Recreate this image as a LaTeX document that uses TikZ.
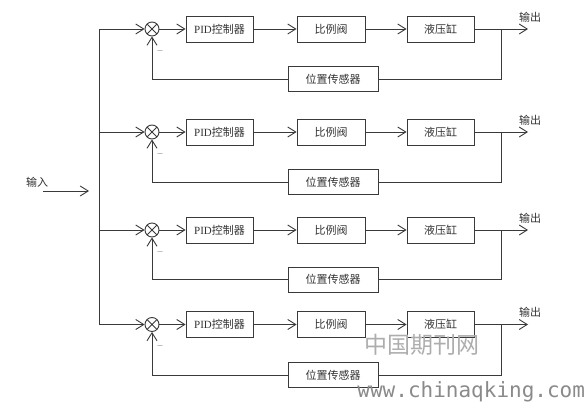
\documentclass[tikz,border=0pt]{standalone}
\usepackage{fontspec}
\setmainfont{Liberation Serif}
\newfontfamily\cjk{Noto Sans CJK SC}
\newfontfamily\wmmono{DejaVu Sans Mono}
\usetikzlibrary{arrows.meta}
\definecolor{linec}{HTML}{3A3A3A}
\definecolor{txtc}{HTML}{333333}
\definecolor{wmc}{HTML}{8A8A8A}
\begin{document}
\begin{tikzpicture}[x=1pt,y=-1pt,
  line width=0.9pt,
  wire/.style={draw=linec, line width=0.9pt},
  blk/.style={draw=linec, line width=0.9pt, minimum height=26pt, inner sep=0pt,
    text=txtc, font=\cjk\fontsize{11}{12}\selectfont},
  sumj/.style={draw=linec, circle, minimum size=14pt, inner sep=0pt,
    path picture={\draw[linec,line width=0.8pt]
      (path picture bounding box.south west) -- (path picture bounding box.north east)
      (path picture bounding box.north west) -- (path picture bounding box.south east);}},
  arr/.style={wire, -{Straight Barb[length=8pt,width=10pt,line width=0.9pt]}},
  lbl/.style={text=txtc, font=\cjk\fontsize{11}{12}\selectfont, inner sep=0pt},
  minus/.style={text=gray, font=\fontsize{10}{11}\selectfont, inner sep=0pt}]
\useasboundingbox (0,0) rectangle (588,403);

\foreach \y/\f/\i in {29/79/1, 132/182/2, 230/279.5/3, 324.5/375/4}{
  \coordinate (b\i) at (99,\y);
  \node[sumj] (s\i) at (152,\y) {};
  \node[blk, minimum width=67pt] (p\i) at (219.5,\y) {{\rmfamily PID}控制器};
  \node[blk, minimum width=68pt] (v\i) at (331,\y) {比例阀};
  \node[blk, minimum width=67pt] (c\i) at (440.5,\y) {液压缸};
  \node[blk, minimum width=90pt, minimum height=25pt] (f\i) at (333,\f) {位置传感器};
  \coordinate (t\i) at (501,\y);
  \coordinate (o\i) at (528,\y);
  \node[lbl] (ol\i) at (530,{\y-12}) {输出};
  \node[minus] (m\i) at (160,{\y+23}) {--};
  \draw[arr] (b\i) -- (s\i);
  \draw[arr] (s\i) -- (p\i);
  \draw[arr] (p\i) -- (v\i);
  \draw[arr] (v\i) -- (c\i);
  \draw[arr] (c\i) -- (o\i);
  \draw[wire] (t\i) |- (f\i);
  \draw[arr] (f\i) -| (s\i);
}
\draw[wire] (b1) -- (b4);
\coordinate (inS) at (43,191);
\coordinate (inE) at (89,191);
\draw[arr] (inS) -- (inE);
\node[lbl] (inl) at (37,182) {输入};

\node[text=wmc!70, font=\cjk\fontsize{23}{25}\selectfont, inner sep=0pt] (wm1) at (422,345) {中国期刊网};
\node[text=wmc, font=\wmmono\fontsize{21}{23}\selectfont, inner sep=0pt, anchor=west] (wm2) at (357,392) {www.chinaqking.com};
\end{tikzpicture}
\end{document}
